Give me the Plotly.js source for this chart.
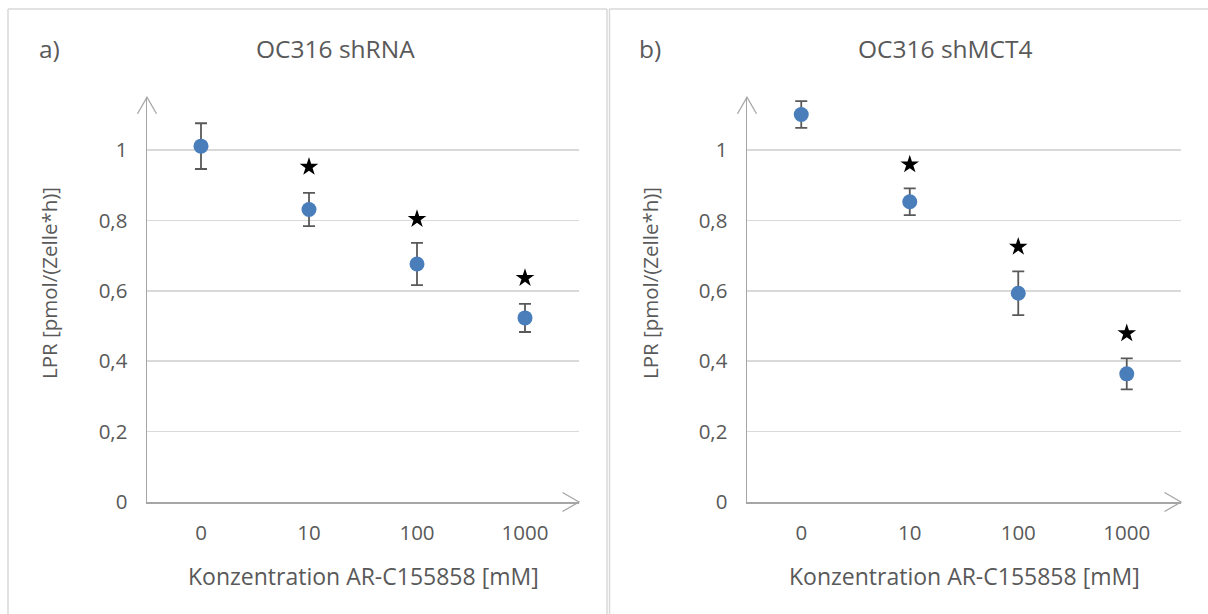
<!DOCTYPE html>
<html>
<head>
<meta charset="utf-8">
<script src="https://cdn.plot.ly/plotly-3.0.1.min.js"></script>
<style>html,body{margin:0;padding:0;background:#fff;}#chart{width:1208px;height:614px;}</style>
</head>
<body>
<div id="chart"></div>
<script>
// ---- data ----
var categories = ['0', '10', '100', '1000'];
var aMean = [1.011, 0.831, 0.676, 0.523];
var aErr  = [0.065, 0.047, 0.060, 0.040];
var aStar = [null, 0.952, 0.804, 0.636];
var bMean = [1.101, 0.853, 0.593, 0.364];
var bErr  = [0.038, 0.038, 0.062, 0.044];
var bStar = [null, 0.959, 0.725, 0.479];
var yTicks = [0, 0.2, 0.4, 0.6, 0.8, 1];
var panelTitles = ['OC316 shRNA', 'OC316 shMCT4'];
var panelLabels = ['a)', 'b)'];
var xTitle = 'Konzentration AR-C155858 [mM]';
var yTitle = 'LPR [pmol/(Zelle*h)]';

// ---- layout helpers ----
var W = 1208, H = 614;
function px(x) { return x / W; }
function py(y) { return 1 - y / H; }
var FONT = '"Open Sans", sans-serif';
var TXT = '#595959';
var AXC = '#a6a6a6';
var GRID = '#d9d9d9';
var BLUE = '#4a7ebb';

var xdomA = [px(147), px(579)];
var xdomB = [px(747), px(1181)];
var ydom = [py(502), py(97.2)];

function meanTrace(y, err, xa, ya) {
  return {
    type: 'scatter', mode: 'markers', x: categories, y: y, xaxis: xa, yaxis: ya,
    marker: {color: BLUE, size: 15},
    error_y: {type: 'data', array: err, visible: true, color: '#595959', thickness: 1.8, width: 6},
    showlegend: false, hoverinfo: 'skip'
  };
}
function starTrace(y, xa, ya) {
  return {
    type: 'scatter', mode: 'markers', x: categories, y: y, xaxis: xa, yaxis: ya,
    marker: {color: '#000', size: 14, symbol: 'star'},
    showlegend: false, hoverinfo: 'skip'
  };
}

var data = [
  meanTrace(aMean, aErr, 'x', 'y'),
  starTrace(aStar, 'x', 'y'),
  meanTrace(bMean, bErr, 'x2', 'y2'),
  starTrace(bStar, 'x2', 'y2')
];

function xaxisDef(dom, anchor) {
  return {
    domain: dom, anchor: anchor, type: 'category', range: [-0.5, 3.5],
    showline: true, linecolor: AXC, linewidth: 1.5, showgrid: false, zeroline: false,
    ticks: '', ticklabelstandoff: 12,
    tickfont: {family: FONT, size: 20.5, color: TXT}, fixedrange: true
  };
}
function yaxisDef(anchor) {
  return {
    domain: ydom, anchor: anchor, range: [0, 1.15],
    tickvals: yTicks,
    showline: true, linecolor: AXC, linewidth: 1.5,
    showgrid: true, gridcolor: GRID, gridwidth: 1.5, zeroline: false,
    ticks: '', ticklabelstandoff: 14,
    tickfont: {family: FONT, size: 20.5, color: TXT}, fixedrange: true
  };
}

var shapes = [];
var BORDER = '#d9d9d9';
function line(x0, y0, x1, y1, c, w) {
  shapes.push({type: 'line', xref: 'paper', yref: 'paper', x0: px(x0), y0: py(y0), x1: px(x1), y1: py(y1),
    line: {color: c, width: w}, layer: 'below'});
}
// panel frames
line(8, 9, 8, 620, BORDER, 1.5);
line(8, 9, 607, 9, BORDER, 1.5);
line(607, 9, 607, 620, BORDER, 1.5);
line(609.5, 9, 609.5, 620, BORDER, 1.5);
line(609.5, 9, 1210, 9, BORDER, 1.5);

// axis arrowheads
function arrowUp(xd) {
  shapes.push({type: 'path', xref: 'paper', yref: 'paper', xsizemode: 'pixel', ysizemode: 'pixel',
    xanchor: xd[0], yanchor: ydom[1], path: 'M -9.5,-16.5 L 0,0 L 9.5,-16.5',
    line: {color: AXC, width: 1.3}});
}
function arrowRight(xd) {
  shapes.push({type: 'path', xref: 'paper', yref: 'paper', xsizemode: 'pixel', ysizemode: 'pixel',
    xanchor: xd[1], yanchor: ydom[0], path: 'M -16.5,9.5 L 0,0 L -16.5,-9.5',
    line: {color: AXC, width: 1.3}});
}
arrowUp(xdomA); arrowRight(xdomA);
arrowUp(xdomB); arrowRight(xdomB);

function ann(text, x, y, size, angle) {
  return {text: text, xref: 'paper', yref: 'paper', x: px(x), y: py(y), xanchor: 'center', yanchor: 'middle',
    showarrow: false, textangle: angle || 0, font: {family: FONT, size: size, color: TXT}};
}
var annotations = [
  ann(panelLabels[0], 49, 48, 24.5),
  ann(panelTitles[0], 335, 48, 24.5),
  ann(panelLabels[1], 650, 48, 24.5),
  ann(panelTitles[1], 946, 48, 24.5),
  ann(xTitle, 363, 576, 23),
  ann(xTitle, 964, 576, 23),
  ann(yTitle, 49, 283, 20.5, -90),
  ann(yTitle, 650, 283, 20.5, -90)
];

var layout = {
  width: W, height: H,
  margin: {l: 0, r: 0, t: 0, b: 0},
  paper_bgcolor: '#fff', plot_bgcolor: '#fff',
  separators: ', ',
  showlegend: false,
  xaxis: xaxisDef(xdomA, 'y'),
  yaxis: yaxisDef('x'),
  xaxis2: xaxisDef(xdomB, 'y2'),
  yaxis2: yaxisDef('x2'),
  shapes: shapes,
  annotations: annotations
};

Plotly.newPlot('chart', data, layout, {displayModeBar: false, staticPlot: true});
</script>
</body>
</html>
